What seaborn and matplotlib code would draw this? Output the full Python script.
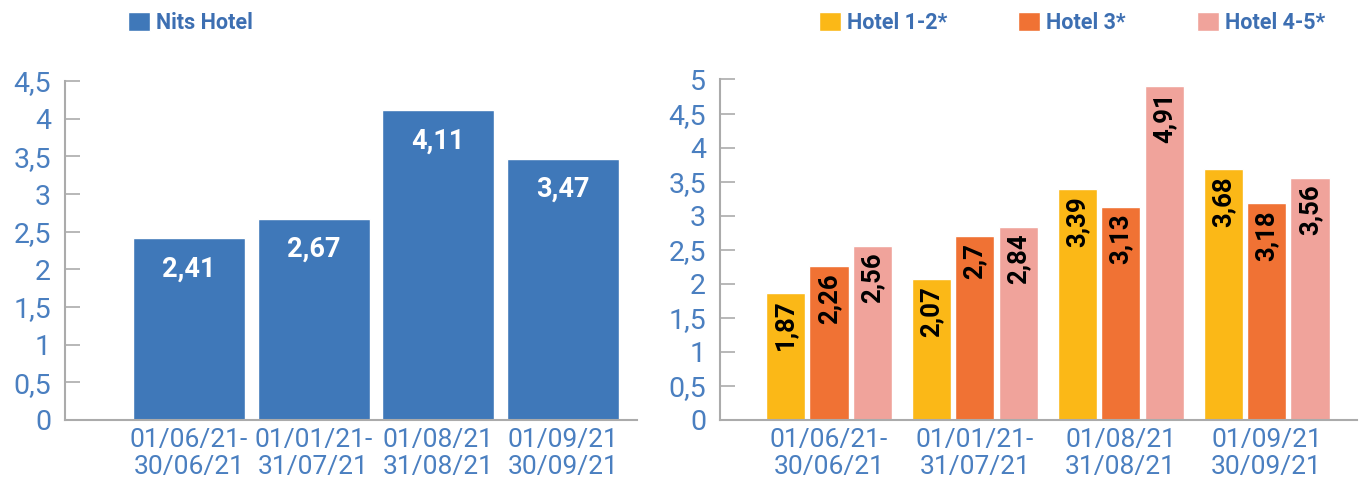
import numpy as np
import pandas as pd
import seaborn as sns
import matplotlib
matplotlib.use("Agg")
import matplotlib.pyplot as plt
from matplotlib.ticker import MultipleLocator, FuncFormatter

# ---- data ----
periods = ["01/06/21-\n30/06/21", "01/01/21-\n31/07/21", "01/08/21\n31/08/21", "01/09/21\n30/09/21"]
nits_hotel = [2.41, 2.67, 4.11, 3.47]
hotel_12 = [1.87, 2.07, 3.39, 3.68]
hotel_3 = [2.26, 2.70, 3.13, 3.18]
hotel_45 = [2.56, 2.84, 4.91, 3.56]
left_series = ["Nits Hotel"]
right_series = ["Hotel 1-2*", "Hotel 3*", "Hotel 4-5*"]

# ---- style ----
BLUE = "#3f78b9"
TICK_BLUE = "#4a7fc0"
LEGEND_BLUE = "#3d6fb2"
GREY = "#ababab"
pal_left = [BLUE]
pal_right = ["#fbb817", "#f07234", "#f0a39b"]

sns.set_theme(style="white")
plt.rcParams["font.family"] = ["Roboto", "DejaVu Sans"]

def fmt(v):
    return ("{:g}".format(round(v, 2))).replace(".", ",")

df_left = pd.DataFrame({"period": periods, "value": nits_hotel, "series": left_series[0]})
df_right = pd.DataFrame({
    "period": periods * 3,
    "value": hotel_12 + hotel_3 + hotel_45,
    "series": [s for s in right_series for _ in periods],
})

fig = plt.figure(figsize=(13.6, 4.86), dpi=100)
axL = fig.add_axes([65 / 1360, 1 - 420 / 486, 572 / 1360, 339 / 486])
axR = fig.add_axes([720 / 1360, 1 - 420 / 486, 637 / 1360, 340.5 / 486])

sns.barplot(data=df_left, x="period", y="value", hue="series", palette=pal_left,
            width=0.9, ax=axL, saturation=1)
sns.barplot(data=df_right, x="period", y="value", hue="series", palette=pal_right,
            hue_order=right_series, width=0.894, gap=0.1, ax=axR, saturation=1)

def style_axis(ax, ymax, xlim):
    ax.set_ylim(0, ymax)
    ax.set_xlim(*xlim)
    ax.yaxis.set_major_locator(MultipleLocator(0.5))
    ax.yaxis.set_major_formatter(FuncFormatter(lambda v, p: fmt(v)))
    ax.set_xlabel("")
    ax.set_ylabel("")
    for s in ["top", "right"]:
        ax.spines[s].set_visible(False)
    for s in ["left", "bottom"]:
        ax.spines[s].set_color(GREY)
        ax.spines[s].set_linewidth(1.5)
    ax.tick_params(axis="y", direction="in", length=11, width=1.2, color=GREY,
                   labelsize=20.5, labelcolor=TICK_BLUE, pad=10, left=True)
    ax.tick_params(axis="x", length=0, labelsize=19, labelcolor=TICK_BLUE, pad=6)
    for t in ax.get_xticklabels():
        t.set_linespacing(1.15)

style_axis(axL, 4.5, (-0.995, 3.595))
style_axis(axR, 5.0, (-0.747, 3.62))

# left value labels
for c in axL.containers:
    texts = axL.bar_label(c, labels=[fmt(v) for v in c.datavalues], padding=-22,
                          color="white", fontsize=19.5, fontweight="bold")
    for t in texts:
        t.set_va("center")

# right value labels (rotated)
for c in axR.containers:
    texts = axR.bar_label(c, labels=[fmt(v) for v in c.datavalues], padding=-5,
                          color="black", fontsize=18.5, fontweight="bold", rotation=90)
    for t in texts:
        t.set_va("top")
        t.set_ha("center")

# legends
sns.move_legend(axL, loc="center left", bbox_to_anchor=(128 / 1360, 1 - 23 / 486),
                bbox_transform=fig.transFigure, frameon=False, title=None,
                handlelength=1.0, handleheight=1.0, handletextpad=0.3,
                borderpad=0, borderaxespad=0, fontsize=15.5)
sns.move_legend(axR, loc="center left", bbox_to_anchor=(819 / 1360, 1 - 23 / 486),
                bbox_transform=fig.transFigure, frameon=False, title=None, ncol=3,
                handlelength=1.0, handleheight=1.0, handletextpad=0.3,
                columnspacing=3.3, borderpad=0, borderaxespad=0, fontsize=15.5)
for ax in (axL, axR):
    for t in ax.get_legend().get_texts():
        t.set_color(LEGEND_BLUE)
        t.set_fontweight("bold")

fig.savefig("out.png", dpi=100)
